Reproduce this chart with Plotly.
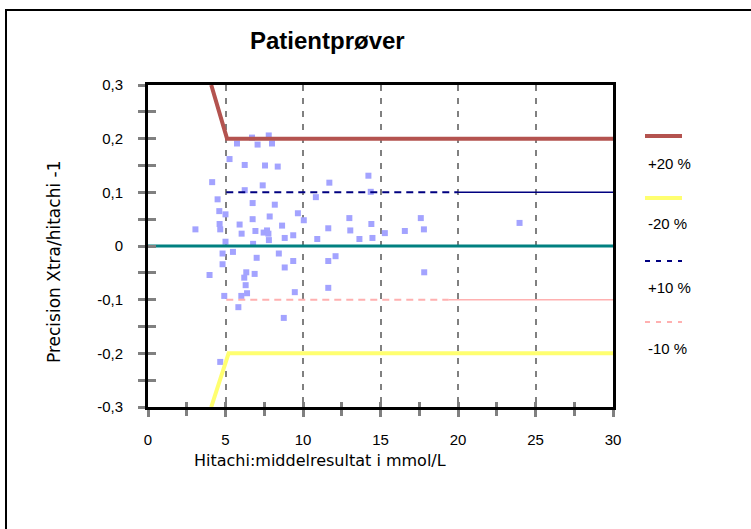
import plotly.graph_objects as go

# ---------------- data ----------------
scatter_x = [5.74, 6.71, 7.07, 7.79, 8.00, 5.26, 6.24, 7.55, 8.37, 4.14, 6.24, 7.40, 4.49, 6.75, 8.18,
             4.60, 5.00, 6.75, 7.85, 9.67, 10.05, 3.06, 4.62, 4.66, 5.91, 6.04, 6.93, 7.46, 7.68, 7.77,
             8.65, 8.82, 9.37, 5.00, 6.78, 7.80, 4.81, 5.48, 7.01, 8.44, 9.37, 4.81, 3.97, 6.34, 6.88,
             8.82, 6.21, 6.30, 4.92, 6.02, 6.39, 9.47, 5.83, 8.76, 4.66, 14.22, 11.70, 14.37, 10.83,
             12.99, 17.60, 11.63, 13.05, 14.41, 10.92, 13.64, 14.48, 15.28, 16.57, 17.80, 23.97,
             11.63, 12.10, 17.82, 11.63]
scatter_y = [0.191, 0.202, 0.189, 0.206, 0.191, 0.162, 0.151, 0.150, 0.148, 0.119, 0.104, 0.113, 0.087,
             0.080, 0.077, 0.065, 0.059, 0.050, 0.055, 0.061, 0.048, 0.031, 0.041, 0.031, 0.040, 0.023,
             0.028, 0.025, 0.029, 0.023, 0.038, 0.015, 0.020, 0.008, 0.004, 0.011, -0.014, -0.011,
             -0.022, -0.014, -0.028, -0.034, -0.054, -0.049, -0.052, -0.040, -0.059, -0.073, -0.093,
             -0.093, -0.088, -0.086, -0.114, -0.134, -0.216, 0.131, 0.118, 0.101, 0.091, 0.052, 0.052,
             0.033, 0.029, 0.041, 0.013, 0.013, 0.015, 0.024, 0.028, 0.031, 0.043, -0.028, -0.019,
             -0.049, -0.078]

plus20_x = [4.08, 5.10, 30.0]
plus20_y = [0.30, 0.20, 0.20]
minus20_x = [4.08, 5.20, 30.0]
minus20_y = [-0.30, -0.20, -0.20]
plus10_dash_x = [5.05, 20.0]
plus10_dash_y = [0.10, 0.10]
plus10_solid_x = [20.0, 30.0]
plus10_solid_y = [0.10, 0.10]
minus10_dash_x = [5.05, 19.4]
minus10_dash_y = [-0.10, -0.10]
minus10_solid_x = [19.4, 30.0]
minus10_solid_y = [-0.10, -0.10]
zero_x = [0.0, 30.0]
zero_y = [0.0, 0.0]

x_ticks = [0, 5, 10, 15, 20, 25, 30]
x_ticktext = ["0", "5", "10", "15", "20", "25", "30"]
y_ticks = [0.3, 0.2, 0.1, 0.0, -0.1, -0.2, -0.3]
y_ticktext = ["0,3", "0,2", "0,1", "0", "-0,1", "-0,2", "-0,3"]

legend_labels = ["+20 %", "-20 %", "+10 %", "-10 %"]
legend_colors = ["#b4534f", "#ffff70", "#000080", "#ffb0b0"]

title_text = "Patientprøver"
x_title = "Hitachi:middelresultat i mmol/L"
y_title = "Precision Xtra/hitachi -1"

# ---------------- layout geometry ----------------
W, H = 751, 529
L, R, T, B = 148, 138, 85, 122
PW, PH = W - L - R, H - T - B


def px(xp):
    return (xp - L) / PW


def py(yp):
    return (H - B - yp) / PH


FONT = "Liberation Sans, Arial, sans-serif"
FONT2 = "DejaVu Sans, sans-serif"
GRAY = "#808080"

fig = go.Figure()

fig.add_trace(go.Scatter(x=scatter_x, y=scatter_y, mode="markers",
                         marker=dict(symbol="square", size=6, color="#a3a3ff", line=dict(width=0)),
                         showlegend=False, hoverinfo="skip"))
fig.add_trace(go.Scatter(x=zero_x, y=zero_y, mode="lines",
                         line=dict(color="#008080", width=3), showlegend=False))
fig.add_trace(go.Scatter(x=plus20_x, y=plus20_y, mode="lines",
                         line=dict(color=legend_colors[0], width=4), showlegend=False))
fig.add_trace(go.Scatter(x=minus20_x, y=minus20_y, mode="lines",
                         line=dict(color=legend_colors[1], width=4), showlegend=False))
fig.add_trace(go.Scatter(x=plus10_dash_x, y=plus10_dash_y, mode="lines",
                         line=dict(color=legend_colors[2], width=2, dash="7px,5px"), showlegend=False))
fig.add_trace(go.Scatter(x=plus10_solid_x, y=plus10_solid_y, mode="lines",
                         line=dict(color=legend_colors[2], width=1.5), showlegend=False))
fig.add_trace(go.Scatter(x=minus10_dash_x, y=minus10_dash_y, mode="lines",
                         line=dict(color=legend_colors[3], width=2, dash="7px,5px"), showlegend=False))
fig.add_trace(go.Scatter(x=minus10_solid_x, y=minus10_solid_y, mode="lines",
                         line=dict(color=legend_colors[3], width=1.5), showlegend=False))
# helper trace for the overlay axes (inside half of crossing ticks)
fig.add_trace(go.Scatter(x=[None], y=[None], xaxis="x2", yaxis="y2", showlegend=False))

axis_common = dict(showline=True, linecolor="black", linewidth=3, mirror=True,
                   ticks="outside", ticklen=7, tickwidth=3, tickcolor=GRAY,
                   tickfont=dict(family=FONT, size=15, color="black"), zeroline=False)

fig.update_layout(
    width=W, height=H,
    margin=dict(l=L, r=R, t=T, b=B),
    paper_bgcolor="white", plot_bgcolor="white",
    showlegend=False,
    xaxis=dict(range=[0, 30], tickvals=x_ticks, ticktext=x_ticktext,
               showgrid=True, gridcolor=GRAY, gridwidth=1.5, griddash="6px,7px",
               minor=dict(dtick=2.5, ticks="outside", ticklen=6, tickwidth=3, tickcolor=GRAY, showgrid=False),
               ticklabelstandoff=10, **axis_common),
    yaxis=dict(range=[-0.3, 0.3], tickvals=y_ticks, ticktext=y_ticktext, showgrid=False,
               minor=dict(dtick=0.05, ticks="outside", ticklen=7, tickwidth=3, tickcolor=GRAY),
               ticklabelstandoff=12, **axis_common),
    xaxis2=dict(range=[0, 30], overlaying="x", anchor="y2", side="bottom", showgrid=False,
                showline=False, zeroline=False, showticklabels=False,
                tickvals=x_ticks, ticks="inside", ticklen=5, tickwidth=3, tickcolor=GRAY,
                minor=dict(dtick=2.5, ticks="inside", ticklen=5, tickwidth=3, tickcolor=GRAY)),
    yaxis2=dict(range=[-0.3, 0.3], overlaying="y", anchor="x2", side="left", showgrid=False,
                showline=False, zeroline=False, showticklabels=False,
                tickvals=y_ticks, ticks="inside", ticklen=8, tickwidth=3, tickcolor=GRAY,
                minor=dict(dtick=0.05, ticks="inside", ticklen=8, tickwidth=3, tickcolor=GRAY)),
)

annotations = [
    dict(text="<b>%s</b>" % title_text, x=px(327), y=py(40), xref="paper", yref="paper",
         showarrow=False, font=dict(family=FONT, size=24, color="black"), xanchor="center", yanchor="middle"),
    dict(text=x_title, x=px(320), y=py(460), xref="paper", yref="paper", showarrow=False,
         font=dict(family=FONT2, size=16, color="black"), xanchor="center", yanchor="middle"),
    dict(text=y_title, x=px(54), y=py(262), xref="paper", yref="paper", showarrow=False, textangle=-90,
         font=dict(family=FONT2, size=17, color="black"), xanchor="center", yanchor="middle"),
]

shapes = [
    dict(type="rect", xref="paper", yref="paper", x0=px(6), x1=px(770), y0=py(10), y1=py(560),
         line=dict(color="black", width=2), fillcolor="rgba(0,0,0,0)", layer="below"),
]

legend_line_y = [136, 198, 261, 322]
legend_text_y = [163, 223, 287, 348]
legend_dash = ["solid", "solid", "5px,6px", "5px,6px"]
legend_width = [4, 4, 2, 2]
for i, lab in enumerate(legend_labels):
    shapes.append(dict(type="line", xref="paper", yref="paper",
                       x0=px(645), x1=px(682), y0=py(legend_line_y[i]), y1=py(legend_line_y[i]),
                       line=dict(color=legend_colors[i], width=legend_width[i], dash=legend_dash[i])))
    annotations.append(dict(text=lab, x=px(646), y=py(legend_text_y[i]), xref="paper", yref="paper",
                            showarrow=False, xanchor="left", yanchor="middle",
                            font=dict(family=FONT, size=15, color="black")))

fig.update_layout(annotations=annotations, shapes=shapes)

fig.write_html("out.html")
